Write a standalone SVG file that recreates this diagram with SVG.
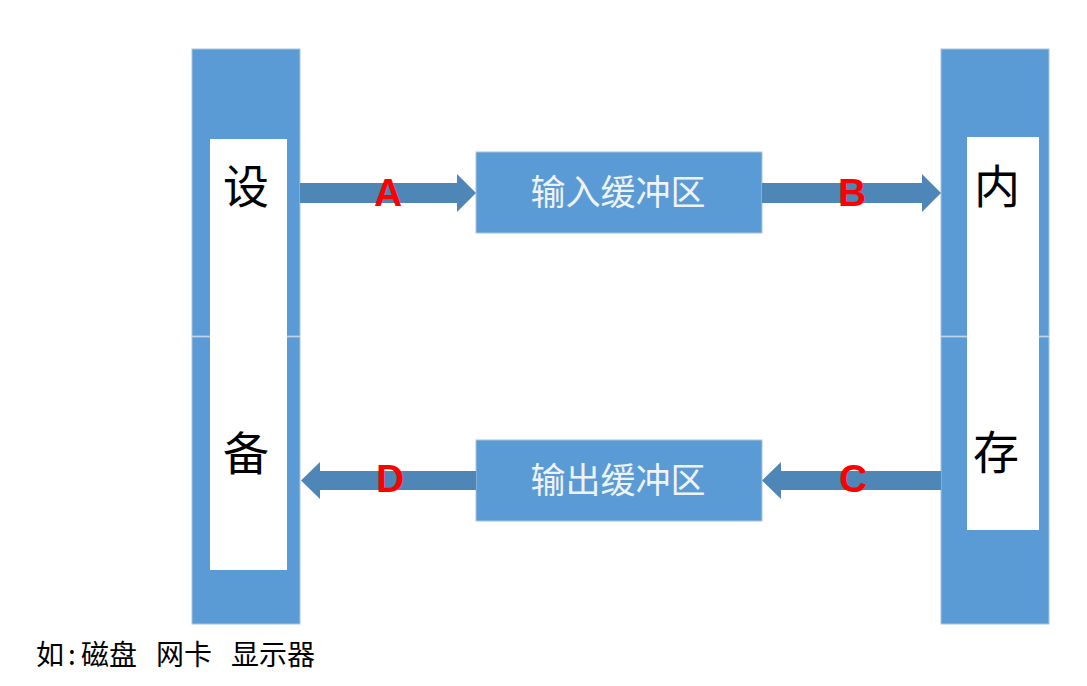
<svg xmlns="http://www.w3.org/2000/svg" width="1087" height="686" viewBox="0 0 1087 686">
<style>
.blk{fill:#5b9bd5;stroke:#a9c4e0;stroke-width:1}
.in{fill:#ffffff}
.buf{fill:#5b9bd5;stroke:#a9c4e0;stroke-width:1}
.bt{font-family:"Noto Sans CJK SC",sans-serif;font-size:35px;fill:#eef3fa;text-anchor:middle}
.big{font-family:"Noto Sans CJK SC",sans-serif;font-size:46px;fill:#000;text-anchor:middle}
.arr{fill:#4f86b8}
.lbl{font-family:"Liberation Sans",sans-serif;font-size:39px;font-weight:bold;fill:#ff0000;text-anchor:middle}
.note{font-family:"Noto Sans CJK SC",sans-serif;font-size:28px;fill:#000}
</style>
<rect width="1087" height="686" fill="#ffffff"/>
<g id="device">
<rect class="blk" x="192" y="49" width="108" height="287"/>
<rect class="blk" x="192" y="337" width="108" height="287"/>
<rect class="in" x="210" y="139" width="77" height="431"/>
<text class="big" x="246" y="203">设</text>
<text class="big" x="246" y="470">备</text>
</g>
<g id="memory">
<rect class="blk" x="941" y="49" width="108" height="287"/>
<rect class="blk" x="941" y="337" width="108" height="287"/>
<rect class="in" x="967" y="137" width="72" height="393"/>
<text class="big" x="997" y="203">内</text>
<text class="big" x="996" y="469">存</text>
</g>
<g id="input-buffer">
<rect class="buf" x="476" y="152" width="286" height="81"/>
<text class="bt" x="618" y="205">输入缓冲区</text>
</g>
<g id="output-buffer">
<rect class="buf" x="476" y="440" width="286" height="81"/>
<text class="bt" x="618" y="493">输出缓冲区</text>
</g>
<g id="connectors">
<polygon class="arr" points="300,183 457,183 457,174 476,193 457,212 457,203 300,203"/>
<polygon class="arr" points="762,183 922,183 922,174 941,193 922,212 922,203 762,203"/>
<polygon class="arr" points="941,471 781,471 781,462 762,480.5 781,499 781,490 941,490"/>
<polygon class="arr" points="476,471 320,471 320,462 301,480.5 320,499 320,490 476,490"/>
<text class="lbl" x="388" y="206">A</text>
<text class="lbl" x="852" y="206">B</text>
<text class="lbl" x="853" y="492">C</text>
<text class="lbl" x="390" y="492">D</text>
</g>
<g id="note">
<text class="note" x="36" y="665">如</text>
<text class="note" x="68" y="665">:</text>
<text class="note" x="81" y="665">磁盘</text>
<text class="note" x="156" y="665">网卡</text>
<text class="note" x="231" y="665">显示器</text>
</g>
</svg>
